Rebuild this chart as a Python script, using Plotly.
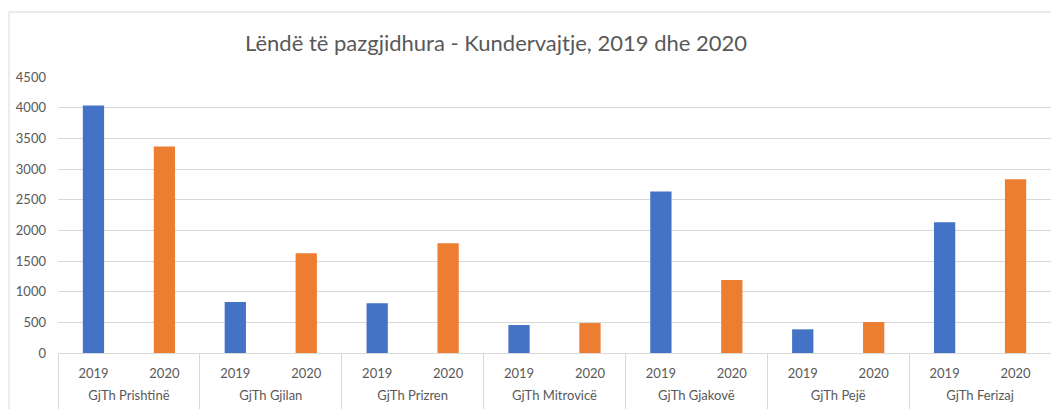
import plotly.graph_objects as go

courts = ["GjTh Prishtinë", "GjTh Gjilan", "GjTh Prizren", "GjTh Mitrovicë",
          "GjTh Gjakovë", "GjTh Pejë", "GjTh Ferizaj"]
years = ["2019", "2020"]
values_2019 = [4035, 830, 810, 456, 2633, 386, 2133]
values_2020 = [3368, 1628, 1791, 488, 1189, 505, 2834]
y_ticks = [0, 500, 1000, 1500, 2000, 2500, 3000, 3500, 4000, 4500]

keys = [f"{c}|{y}" for c in courts for y in years]
key_years = [y for c in courts for y in years]
keys_2019 = [f"{c}|2019" for c in courts]
keys_2020 = [f"{c}|2020" for c in courts]

W, H = 1051, 409
L, R, T, B = 58, 0, 77, 56
pw, ph = W - L - R, H - T - B
GRID = "#D9D9D9"
TXT = "#595959"
font = "Lato, 'Open Sans', sans-serif"
FS = 13

fig = go.Figure()
fig.add_trace(go.Bar(x=keys_2019, y=values_2019, name="2019",
                     marker=dict(color="#4472C4", line=dict(width=0)), width=0.3))
fig.add_trace(go.Bar(x=keys_2020, y=values_2020, name="2020",
                     marker=dict(color="#ED7D31", line=dict(width=0)), width=0.3))
# invisible helpers so the court-level axes exist
fig.add_trace(go.Scatter(x=courts, y=[None] * len(courts), xaxis="x2", mode="markers",
                         showlegend=False, hoverinfo="skip"))
fig.add_trace(go.Scatter(x=courts, y=[None] * len(courts), xaxis="x3", mode="markers",
                         showlegend=False, hoverinfo="skip"))

fig.update_layout(
    width=W, height=H,
    margin=dict(l=L, r=R, t=T, b=B, pad=0, autoexpand=False),
    paper_bgcolor="white", plot_bgcolor="white",
    barmode="overlay", showlegend=False,
    font=dict(family=font, size=FS, color=TXT),
    title=dict(text="Lëndë të pazgjidhura - Kundervajtje, 2019 dhe 2020",
               x=496 / W, xanchor="center", y=1 - 43 / H, yanchor="middle",
               font=dict(family=font, size=22, color=TXT)),
    xaxis=dict(type="category", categoryorder="array", categoryarray=keys,
               range=[-0.5, len(keys) - 0.5],
               tickmode="array", tickvals=keys, ticktext=key_years,
               showline=True, linecolor=GRID, linewidth=1, showgrid=False,
               ticks="", ticklabelstandoff=8, automargin=False,
               tickfont=dict(size=FS, color=TXT)),
    xaxis2=dict(type="category", categoryorder="array", categoryarray=courts,
                range=[-0.5, len(courts) - 0.5], overlaying="x", anchor="y", side="bottom",
                showline=False, showgrid=False, zeroline=False, ticks="",
                ticklabelstandoff=33, automargin=False,
                tickfont=dict(size=FS, color=TXT)),
    xaxis3=dict(type="category", categoryorder="array", categoryarray=courts,
                range=[-0.5, len(courts) - 0.5], overlaying="x", anchor="y", side="bottom",
                showline=False, showgrid=False, zeroline=False,
                tickson="boundaries", ticks="outside", ticklen=60, tickwidth=1,
                tickcolor=GRID, showticklabels=False, automargin=False),
    yaxis=dict(range=[0, 4500], tickvals=y_ticks, showgrid=True, gridcolor=GRID,
               gridwidth=1, zeroline=False, showline=False, ticks="",
               ticklabelstandoff=11, automargin=False,
               tickfont=dict(size=FS, color=TXT)),
    shapes=[dict(type="rect", xref="paper", yref="paper",
                 x0=(9 - L) / pw, x1=(W + 5 - L) / pw,
                 y0=(H - B - (H + 5)) / ph, y1=(H - B - 12) / ph,
                 line=dict(color=GRID, width=1), fillcolor="rgba(0,0,0,0)", layer="below")],
)

fig.write_html("out.html", config={"displayModeBar": False},
               post_script="document.body.style.margin='0';document.body.style.padding='0';")
